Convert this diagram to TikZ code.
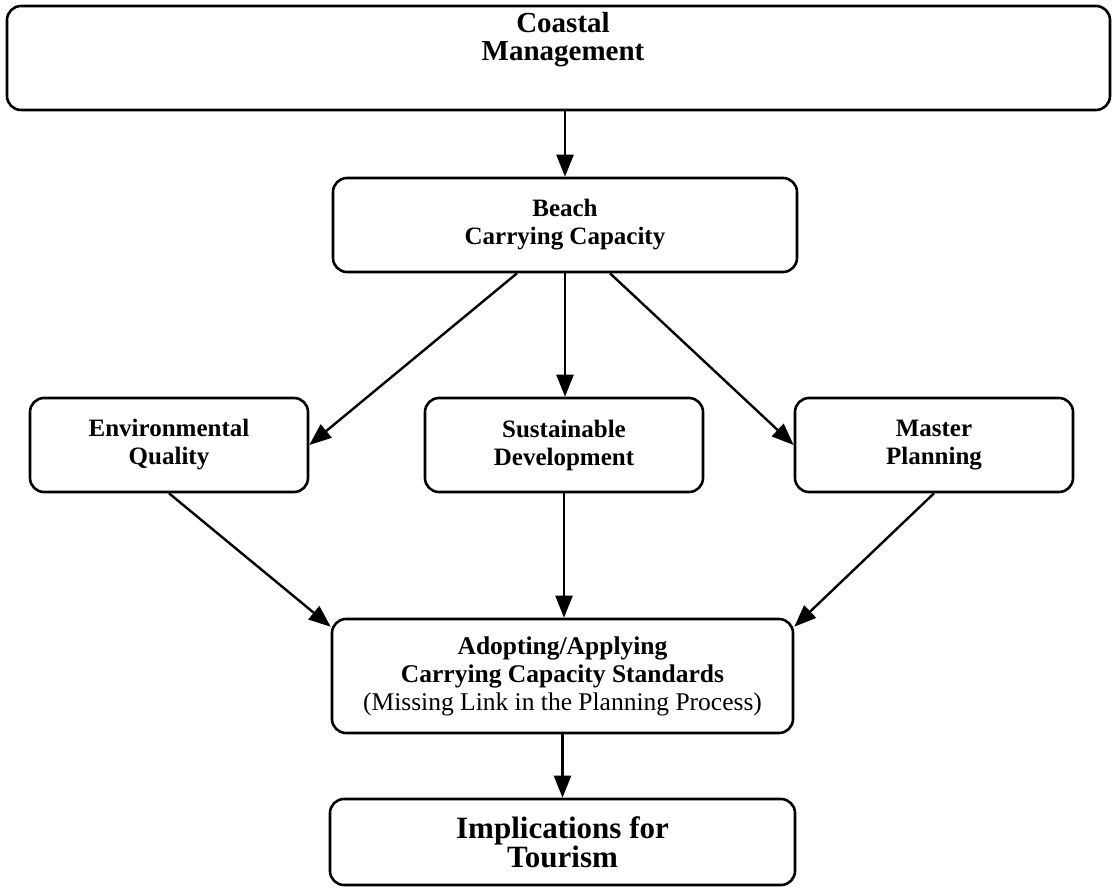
\documentclass[tikz,border=0pt]{standalone}
\usepackage{fontspec}
\setmainfont{Liberation Serif}
\usetikzlibrary{arrows.meta}
\begin{document}
\begin{tikzpicture}[x=1pt,y=-1pt,
  box/.style={draw,line width=2.6pt,rounded corners=14pt,align=center,inner sep=0pt},
  arr/.style={line width=2.4pt,-{Triangle[length=22pt,width=17pt]}},
  bigtxt/.style={font=\fontsize{29}{28}\selectfont\bfseries,align=center,inner sep=0pt},
  midtxt/.style={font=\fontsize{25}{28}\selectfont\bfseries},
  adtxt/.style={font=\fontsize{25.5}{28}\selectfont\bfseries},
  imptxt/.style={font=\fontsize{31}{28}\selectfont\bfseries}]
\useasboundingbox (0,0) rectangle (1116,888);
\node[box,minimum width=1103pt,minimum height=104pt] (coastal) at (558.5,58) {};
\node[bigtxt] (coastaltxt) at (563,40) {Coastal\\Management};
\node[box,midtxt,minimum width=464pt,minimum height=94pt] (beach) at (565,225) {Beach\\Carrying Capacity};
\node[box,midtxt,minimum width=278pt,minimum height=94pt] (env) at (169,445) {Environmental\\Quality};
\node[box,midtxt,minimum width=278pt,minimum height=94pt] (sust) at (564,445) {Sustainable\\Development};
\node[box,midtxt,minimum width=278pt,minimum height=94pt] (master) at (934,445) {Master\\Planning};
\node[box,adtxt,minimum width=461pt,minimum height=114pt] (adopt) at (562.5,676) {Adopting/Applying\\Carrying Capacity Standards\\{\mdseries (Missing Link in the Planning Process)}};
\node[box,imptxt,minimum width=465pt,minimum height=86pt] (impl) at (562.5,842) {Implications for\\Tourism};
\draw[arr] (beach.north |- coastal.south) -- (beach.north);
\draw[arr] ([xshift=-48pt]beach.south) -- (env.east);
\draw[arr] (beach.south) -- (beach.south |- sust.north);
\draw[arr] ([xshift=45pt]beach.south) -- (master.west);
\draw[arr] (env.south) -- ([yshift=-9pt]adopt.north west);
\draw[arr] (sust.south) -- (sust.south |- adopt.north);
\draw[arr] (master.south) -- ([yshift=-9pt]adopt.north east);
\draw[arr] (adopt.south) -- (adopt.south |- impl.north);
\end{tikzpicture}
\end{document}
